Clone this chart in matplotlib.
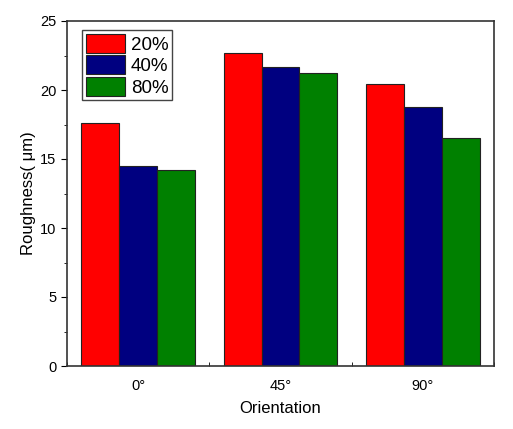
import matplotlib.pyplot as plt
from matplotlib.ticker import MultipleLocator
import numpy as np

plt.rcParams['font.family'] = ['Liberation Sans', 'DejaVu Sans']

orientations = ['0°', '45°', '90°']
series_labels = ['20%', '40%', '80%']
roughness_20 = [17.6, 22.7, 20.4]
roughness_40 = [14.5, 21.7, 18.8]
roughness_80 = [14.2, 21.2, 16.5]
colors = ['#ff0000', '#000080', '#008000']

fig = plt.figure(figsize=(5.13, 4.29), dpi=100)
ax = fig.add_axes([67/513, 1-366/429, 427/513, 345/429])

x = np.arange(1, len(orientations) + 1)
w = 0.266
for i, (vals, lab, c) in enumerate(zip([roughness_20, roughness_40, roughness_80], series_labels, colors)):
    ax.bar(x + (i - 1) * w, vals, w, color=c, edgecolor='#222222', linewidth=0.8, label=lab)

ax.set_xlim(0.5, 3.5)
ax.set_ylim(0, 25)
ax.set_xticks(x)
ax.set_xticklabels(orientations)
ax.xaxis.set_minor_locator(MultipleLocator(0.5))
ax.yaxis.set_major_locator(MultipleLocator(5))
ax.yaxis.set_minor_locator(MultipleLocator(2.5))
ax.tick_params(axis='x', which='major', direction='out', length=0, labelsize=10.5, pad=9)
ax.tick_params(axis='x', which='minor', direction='in', length=3)
ax.tick_params(axis='y', which='both', direction='out', labelsize=10.5)
ax.tick_params(axis='y', which='major', length=4)
ax.tick_params(axis='y', which='minor', length=2.5)
for s in ax.spines.values():
    s.set_linewidth(1.2)
    s.set_color('#333333')

ax.set_xlabel('Orientation', fontsize=12, labelpad=6)
ax.set_ylabel('Roughness( μm)', fontsize=12, labelpad=3)

leg = ax.legend(loc='upper left', bbox_to_anchor=(0.022, 0.99), fontsize=13.5,
                handlelength=2.1, handleheight=1.2, labelspacing=0.08,
                handletextpad=0.3, borderpad=0.2, borderaxespad=0.3,
                fancybox=False, edgecolor='#444444', framealpha=1)
leg.get_frame().set_linewidth(1.0)

plt.savefig('out.png', dpi=100)
